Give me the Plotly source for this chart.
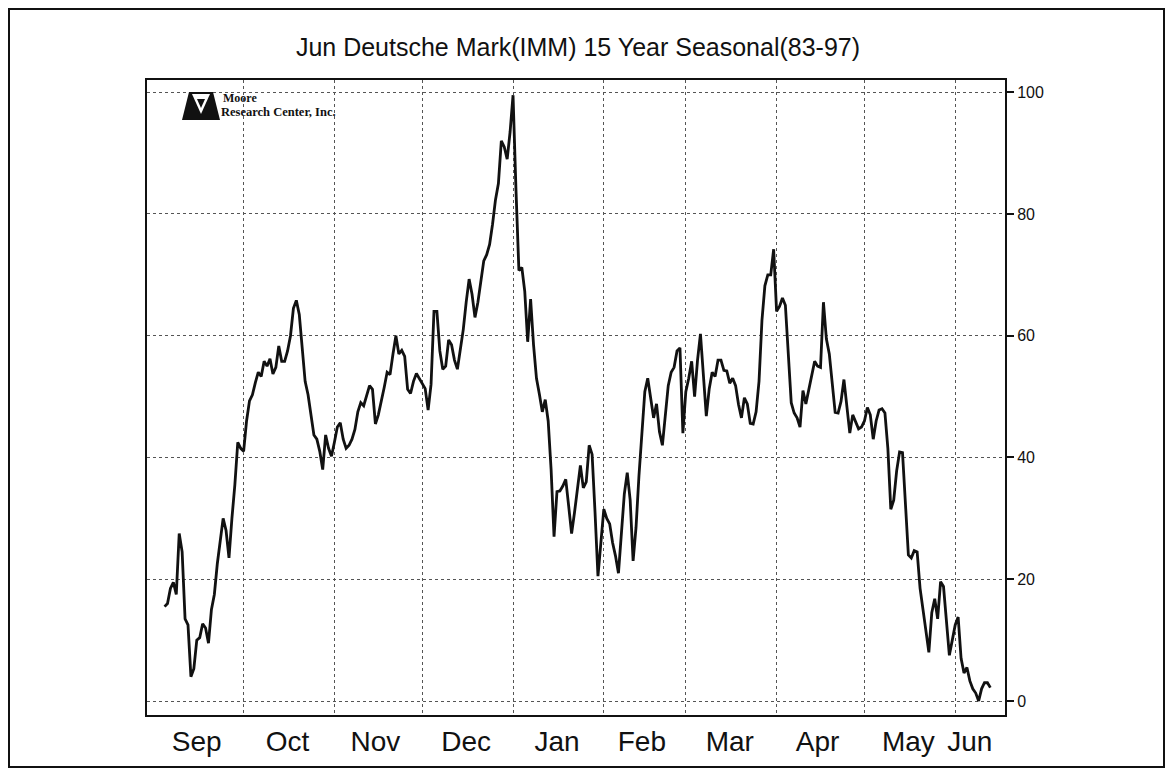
import pandas as pd
import plotly.graph_objects as go

# ---- data (seasonal index, calendar days) ----
sep_vals = [15.5, 16, 18.5, 19.5, 17.5, 27.5, 24.5, 13.5, 12.5, 4, 5.3, 10, 10.4, 12.7, 12,
            9.5, 15, 17.5, 22.5, 26, 30, 28, 23.5, 30, 35.5, 42.5, 41.5]
oct_vals = [41, 46, 49.3, 50.3, 52.3, 54, 53.3, 55.8, 55, 56.2, 53.7, 54.8, 58.3, 55.8, 55.8,
            57.5, 60, 64.5, 65.8, 63.5, 58, 52.5, 50.3, 46.6, 43.7, 43, 41, 38, 43.7, 41.5, 40.2]
nov_vals = [42.5, 45, 45.7, 43, 41.5, 42, 43, 44.6, 47.5, 49, 48.5, 50, 51.8, 51.2, 45.5,
            47, 49, 51.5, 54, 53.6, 57, 60, 57, 57.6, 56.6, 51.2, 50.5, 52.5, 53.8, 53]
dec_vals = [52, 51.3, 47.8, 52, 64, 64, 57.5, 54.5, 55, 59.3, 58.5, 56, 54.5, 57.5, 61,
            65.5, 69.3, 66.8, 63, 65.5, 68.8, 72.3, 73.3, 75, 78.3, 82.3, 85, 92, 91, 89, 93.5]
jan_vals = [99.5, 84, 70.7, 71.2, 67.3, 59, 66, 58.5, 53, 50.4, 47.5, 49.5, 46, 38, 27,
            34.4, 34.5, 35.3, 36.4, 32, 27.5, 31, 35, 38.7, 35, 36, 42, 40.5, 31, 20.5, 26]
feb_vals = [31.5, 30, 29.1, 26, 23.8, 21, 27.5, 34, 37.5, 33, 23, 28.5, 37, 43.5, 50.8,
            53, 49.5, 46.5, 48.8, 44.2, 42, 47, 51.8, 54, 54.8, 57.5, 58, 44]
mar_vals = [50.8, 53, 55.8, 50, 56, 60.3, 53, 46.8, 51.3, 54, 53.3, 56, 56, 54.3, 54.2,
            52.2, 53, 51.8, 48.7, 46.5, 49.8, 48.8, 45.6, 45.5, 47.5, 52.5, 62.5, 68.2, 70, 70, 74.2]
apr_vals = [64, 64.8, 66.2, 65, 57.5, 49, 47.3, 46.5, 45, 51, 48.8, 51.3, 53.8, 55.8, 55,
            54.8, 65.5, 59.5, 57, 52, 47.4, 47.3, 49.2, 52.8, 48.8, 44, 47, 45.8, 44.7, 45]
may_vals = [46, 48.2, 47, 43, 46, 47.8, 48, 47.3, 41.5, 31.5, 33, 37.8, 40.9, 40.8, 33,
            24, 23.5, 24.7, 24.5, 18.5, 15, 11.5, 8, 14.5, 16.8, 13.5, 19.6, 18.8, 12.8, 7.5, 10]
jun_vals = [12.5, 13.8, 7, 4.6, 5.5, 3.3, 2, 1.3, 0, 2, 3, 3, 2.2]

segment_starts = ["1996-09-04", "1996-10-01", "1996-11-01", "1996-12-01", "1997-01-01",
                  "1997-02-01", "1997-03-01", "1997-04-01", "1997-05-01", "1997-06-01"]
segments = [sep_vals, oct_vals, nov_vals, dec_vals, jan_vals,
            feb_vals, mar_vals, apr_vals, may_vals, jun_vals]

month_grid = ["1996-10-01", "1996-11-01", "1996-12-01", "1997-01-01", "1997-02-01",
              "1997-03-01", "1997-04-01", "1997-05-01", "1997-06-01"]
month_label_dates = ["1996-09-15", "1996-10-16", "1996-11-15", "1996-12-16", "1997-01-16",
                     "1997-02-14", "1997-03-16", "1997-04-15", "1997-05-16", "1997-06-06"]
month_labels = ["Sep", "Oct", "Nov", "Dec", "Jan", "Feb", "Mar", "Apr", "May", "Jun"]
y_ticks = [0, 20, 40, 60, 80, 100]

dates, values = [], []
for start, vals in zip(segment_starts, segments):
    dates.extend(pd.date_range(start, periods=len(vals), freq="D"))
    values.extend(vals)

# ---- figure (page body has an 8px margin, so everything is offset by 8px) ----
OFF = 8
W, H = 1173 - 2 * OFF, 776 - 2 * OFF
L, R, T, B = 147 - OFF, 1005 - OFF, 80 - OFF, 715 - OFF


def px(x):
    return (x - OFF - L) / (R - L)


def py(y):
    return (B - (y - OFF)) / (B - T)


fig = go.Figure()
fig.add_trace(go.Scatter(x=dates, y=values, mode="lines",
                         line=dict(color="#111111", width=2.8), hoverinfo="skip",
                         showlegend=False))

fig.update_layout(
    width=W, height=H,
    margin=dict(l=L, r=W - R, t=T, b=H - B),
    paper_bgcolor="white", plot_bgcolor="white",
    title=dict(text="Jun Deutsche Mark(IMM) 15 Year Seasonal(83-97)",
               x=px(578), xref="paper", xanchor="center",
               y=1 - (47 - OFF) / H, yref="container", yanchor="middle",
               font=dict(family="Liberation Sans, Arial, sans-serif", size=25, color="#111")),
    xaxis=dict(type="date", range=["1996-08-29", "1997-06-18"],
               tickmode="array", tickvals=month_label_dates, ticktext=month_labels,
               ticks="", showgrid=False, zeroline=False,
               showline=True, mirror=True, linecolor="#111", linewidth=2,
               tickfont=dict(family="Liberation Sans, Arial, sans-serif", size=28, color="#111"),
               minor=dict(tickmode="array", tickvals=month_grid, showgrid=True,
                          gridcolor="#555555", gridwidth=1.3, griddash="dot", ticks="")),
    yaxis=dict(side="right", range=[-2.3, 102], tickmode="array", tickvals=y_ticks,
               ticks="outside", ticklen=7, tickwidth=1.5, tickcolor="#111",
               showgrid=True, gridcolor="#555555", gridwidth=1.3, griddash="dot",
               zeroline=False, showline=True, mirror=True, linecolor="#111", linewidth=2,
               tickfont=dict(family="Liberation Sans, Arial, sans-serif", size=16, color="#111")),
)

# outer frame of the scanned page
fig.add_shape(type="rect", xref="paper", yref="paper",
              x0=px(OFF + 1), x1=px(OFF + W - 1), y0=py(OFF + H - 1), y1=py(OFF + 1),
              line=dict(color="#111", width=2), fillcolor="rgba(0,0,0,0)", layer="below")


# Moore Research Center logo
def path(points):
    return "M " + " L ".join(f"{px(a):.5f},{py(b):.5f}" for a, b in points) + " Z"


fig.add_shape(type="path", xref="paper", yref="paper",
              path=path([(182, 120), (189, 92), (213, 92), (220, 120)]),
              fillcolor="#111", line=dict(color="#111", width=0))
fig.add_shape(type="path", xref="paper", yref="paper",
              path=path([(192, 94), (210, 94), (201, 114)]),
              fillcolor="white", line=dict(color="white", width=0))
fig.add_shape(type="path", xref="paper", yref="paper",
              path=path([(197, 99), (205, 99), (201, 108)]),
              fillcolor="#111", line=dict(color="#111", width=0))
fig.add_annotation(x=px(221), y=py(98), xref="paper", yref="paper", xanchor="left",
                   yanchor="middle", showarrow=False, text="<b>Moore</b>",
                   font=dict(family="Liberation Serif, serif", size=12, color="#111"))
fig.add_annotation(x=px(219), y=py(112), xref="paper", yref="paper", xanchor="left",
                   yanchor="middle", showarrow=False, text="<b>Research Center, Inc.</b>",
                   font=dict(family="Liberation Serif, serif", size=12.5, color="#111"))

fig.write_html("out.html")
